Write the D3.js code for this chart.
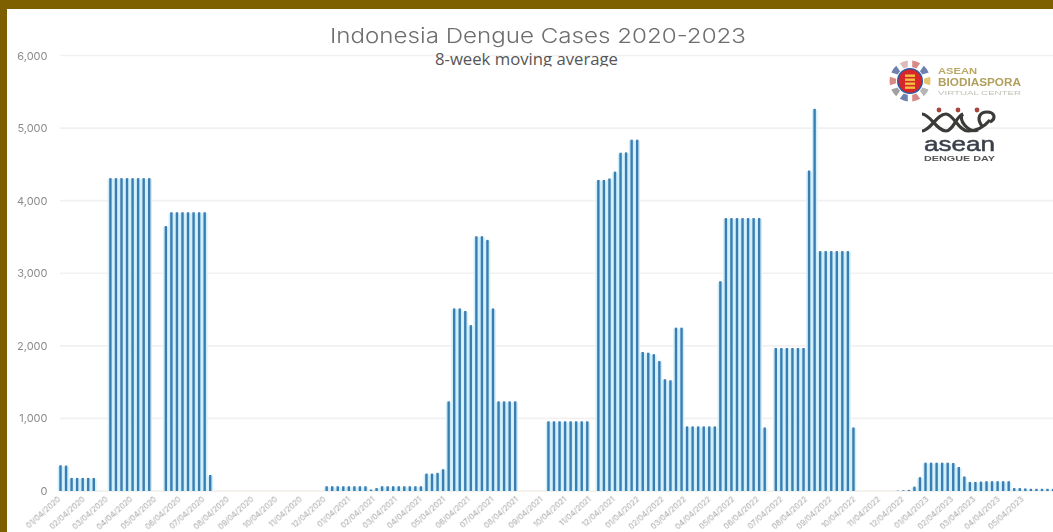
<!DOCTYPE html>
<html>
<head>
<meta charset="utf-8">
<script src="https://cdn.jsdelivr.net/npm/d3@7/dist/d3.min.js"></script>
<style>
html,body{margin:0;padding:0;background:#fff;overflow:hidden}
svg{display:block}
</style>
</head>
<body>
<svg id="chart" width="1053" height="532"></svg>
<script>
const titleText = "Indonesia Dengue Cases 2020-2023";
const subtitleText = "8-week moving average";
const firstWeek = new Date(2020, 0, 4);
const yTicks = [0, 1000, 2000, 3000, 4000, 5000, 6000];
const weeklyCases = [
  355, 350, 180, 180, 180, 180, 180, 0, 0,
  4310, 4310, 4310, 4310, 4310, 4310, 4310, 4310, 0, 0,
  3650, 3840, 3840, 3840, 3840, 3840, 3840, 3840, 220,
  0, 0, 0, 0, 0, 0, 0, 0, 0, 0, 0, 0, 0, 0, 0, 0, 0, 0, 0, 0,
  65, 65, 65, 65, 65, 65, 65, 65, 20, 40,
  65, 65, 65, 65, 65, 65, 65, 65,
  240, 240, 250, 300, 1235,
  2515, 2515, 2480, 2285, 3510, 3510, 3460, 2515,
  1235, 1235, 1235, 1235, 0, 0, 0, 0, 0,
  960, 960, 960, 960, 960, 960, 960, 960, 0,
  4285, 4285, 4305, 4400, 4660, 4665, 4840, 4840,
  1915, 1905, 1885, 1790, 1540, 1525, 2250, 2250,
  890, 890, 890, 890, 890, 890,
  2890, 3760, 3760, 3760, 3760, 3760, 3760, 3760, 875, 0,
  1970, 1970, 1970, 1970, 1970, 1970, 4415, 5265,
  3305, 3305, 3305, 3305, 3305, 3305, 875,
  0, 0, 0, 0, 0, 0, 0,
  5, 10, 15, 60, 190,
  390, 390, 390, 390, 390, 385, 330, 200,
  125, 125, 130, 135, 135, 135, 135, 135,
  40, 40, 35, 30, 30, 30, 30, 30
];
const monthLabels = [
  "01/04/2020","02/04/2020","03/04/2020","04/04/2020","05/04/2020","06/04/2020","07/04/2020","08/04/2020","09/04/2020","10/04/2020","11/04/2020","12/04/2020",
  "01/04/2021","02/04/2021","03/04/2021","04/04/2021","05/04/2021","06/04/2021","07/04/2021","08/04/2021","09/04/2021","10/04/2021","11/04/2021","12/04/2021",
  "01/04/2022","02/04/2022","03/04/2022","04/04/2022","05/04/2022","06/04/2022","07/04/2022","08/04/2022","09/04/2022","10/04/2022","11/04/2022","12/04/2022",
  "01/04/2023","02/04/2023","03/04/2023","04/04/2023","05/04/2023"
];

const svg = d3.select("#chart");
const defs = svg.append("defs");
const soft = (id, s) => defs.append("filter").attr("id", id)
  .attr("x", "-20%").attr("y", "-40%").attr("width", "140%").attr("height", "180%")
  .append("feGaussianBlur").attr("stdDeviation", s);
soft("b1", 0.55); soft("b3", 0.4);
defs.append("clipPath").attr("id", "subClip").append("rect")
  .attr("x", 400).attr("y", 40).attr("width", 260).attr("height", 26.5);

const weeks = weeklyCases.map((_, i) => d3.timeDay.offset(firstWeek, i * 7));
const parseLabel = d3.timeParse("%m/%d/%Y");
const x = d3.scaleTime()
  .domain([firstWeek, weeks[weeks.length - 1]])
  .range([60.5, 60.5 + 5.545 * (weeks.length - 1)]);
const y = d3.scaleLinear().domain([0, 6000]).range([491, 55.5]);

// gridlines + y axis
const yAxis = d3.axisLeft(y).tickValues(yTicks).tickSize(0).tickPadding(0).tickFormat(d3.format(","));
const gy = svg.append("g").attr("transform", "translate(47.5,0)").call(yAxis);
gy.select(".domain").remove();
gy.selectAll("text").attr("font-family", "Inter, Lato, sans-serif")
  .attr("font-size", 11).attr("fill", "#8c8c8c").attr("filter", "url(#b3)");
svg.append("g").selectAll("line").data(yTicks).join("line")
  .attr("x1", 60).attr("x2", 1053).attr("y1", d => y(d)).attr("y2", d => y(d))
  .attr("stroke", d => d === 0 ? "#f2ece6" : "#f1f1f1").attr("stroke-width", 1.6);

// bars: pale halo, then the bar itself
const cases = weeklyCases.map((v, i) => ({ v, d: weeks[i] })).filter(o => o.v > 0);
svg.append("g").attr("fill", "#cfeffa").selectAll("rect").data(cases).join("rect")
  .attr("x", o => x(o.d) - 2.8).attr("width", 5.6)
  .attr("y", o => y(o.v) + 1).attr("height", o => y(0) - y(o.v) - 1);
svg.append("g").attr("fill", "#3a7db2").selectAll("rect").data(cases).join("rect")
  .attr("x", o => x(o.d) - 1.2).attr("width", 2.4)
  .attr("y", o => y(o.v)).attr("height", o => y(0) - y(o.v));

// x axis labels
svg.append("g").selectAll("text").data(monthLabels).join("text")
  .attr("text-anchor", "end")
  .attr("transform", d => `translate(${x(parseLabel(d)) + 0.5},500) rotate(-42)`)
  .attr("font-family", "Inter, Lato, sans-serif")
  .attr("font-size", 7.8).attr("fill", "#a6a6a6").attr("filter", "url(#b1)")
  .text(d => d);

// title
svg.append("text").attr("x", 330).attr("y", 42.5).attr("textLength", 416)
  .attr("lengthAdjust", "spacingAndGlyphs")
  .attr("font-family", "Inter, 'DejaVu Sans', sans-serif").attr("font-weight", 300).attr("font-size", 20.5)
  .attr("fill", "#6e6e6e").attr("filter", "url(#b3)").text(titleText);
svg.append("g").attr("clip-path", "url(#subClip)").append("text")
  .attr("x", 435).attr("y", 64.5).attr("textLength", 183)
  .attr("lengthAdjust", "spacingAndGlyphs")
  .attr("font-family", "'Open Sans', sans-serif").attr("font-size", 16)
  .attr("fill", "#555").text(subtitleText);

// logos
const logo = svg.append("g").attr("filter", "url(#b3)");
const ring = ["#d98a86","#6d80b0","#e6c46e","#b5b5b5","#d98a86","#6d80b0","#a0a0a0","#d98a86","#6d80b0","#dcbcbc"];
const arc = d3.arc().innerRadius(14).outerRadius(20.5).padAngle(0.18);
logo.append("g").attr("transform", "translate(910,81)")
  .selectAll("path").data(d3.pie().value(1)(ring)).join("path")
  .attr("d", arc).attr("fill", d => d.data);
logo.append("circle").attr("cx", 910).attr("cy", 81).attr("r", 13).attr("fill", "#2a5aa5");
logo.append("circle").attr("cx", 910).attr("cy", 81).attr("r", 11.5).attr("fill", "#d8262c");
logo.append("g").selectAll("rect").data([75, 79, 83, 87]).join("rect")
  .attr("x", 905).attr("y", d => d - 0.5).attr("width", 10).attr("height", 2.4).attr("fill", "#f0c23c");
const lt = (t, xx, yy, fs, w, col, len) => logo.append("text").attr("x", xx).attr("y", yy)
  .attr("textLength", len).attr("lengthAdjust", "spacingAndGlyphs")
  .attr("font-family", "'Liberation Sans', sans-serif").attr("font-size", fs)
  .attr("font-weight", w).attr("fill", col).text(t);
lt("ASEAN", 938, 74, 9.5, 700, "#b9a763", 39);
lt("BIODIASPORA", 938, 85.5, 10, 700, "#b19f5c", 83);
lt("VIRTUAL CENTER", 938, 95, 6, 400, "#c2c2b8", 83);
const swirl = ["M922 114 C930 114 937 131 946 131 C953 131 957 115 963 114",
               "M922 131 C930 131 937 114 946 114 C953 114 959 131 968 131 C978 131 984 127 990 120",
               "M963 114 C957 118 968 134 978 130",
               "M982 126 C976 118 980 112 987 112 C994 112 997 118 990 122"];
logo.append("g").attr("fill", "none").attr("stroke", "#3a3a38").attr("stroke-width", 3.2)
  .selectAll("path").data(swirl).join("path").attr("d", d => d);
logo.append("g").attr("fill", "#a8453c").selectAll("circle").data([[939,110],[958,110],[977,110]]).join("circle")
  .attr("cx", d => d[0]).attr("cy", d => d[1]).attr("r", 2.4);
lt("asean", 924, 151, 21, 400, "#3a3f4a", 71).attr("stroke", "#3a3f4a").attr("stroke-width", 0.5);
lt("DENGUE DAY", 924, 160.5, 7, 700, "#555", 71);

// brown frame
svg.append("rect").attr("x", 0).attr("y", 0).attr("width", 1053).attr("height", 9).attr("fill", "#7f6000");
svg.append("rect").attr("x", 0).attr("y", 0).attr("width", 7).attr("height", 532).attr("fill", "#7f6000");
</script>
</body>
</html>
